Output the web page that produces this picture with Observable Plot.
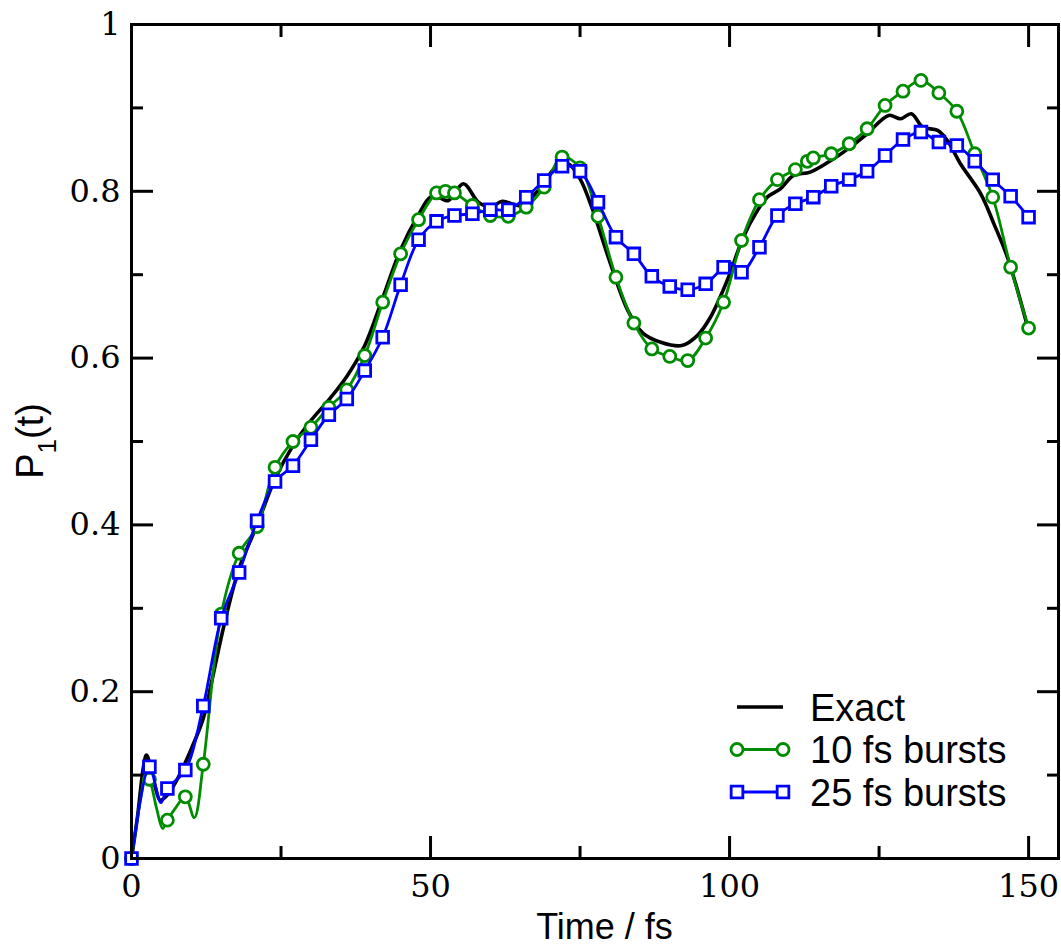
<!DOCTYPE html>
<html><head><meta charset="utf-8">
<script src="https://cdn.jsdelivr.net/npm/d3@7"></script>
<script src="https://cdn.jsdelivr.net/npm/@observablehq/plot@0.6"></script>
<style>body{margin:0;background:#fff}</style>
</head><body><div id="chart"></div>
<script>
// ---- Data ----
const exactT = [0,1,2,2.5,3.2,4,4.8,6,7.5,9,10.5,12,13.5,15,16.5,18,21,24,27,30,33,36,39,42,45,48,50,51.5,53,55.5,58,60,62,65,68,71,73,75,77,80,83,85.5,88.5,92,94.6,96.8,99.6,102.3,104.5,106.3,108.5,110.7,113.5,117.4,120.2,123,126.6,128.6,130.4,132.3,134.8,136.4,138.6,142,144.2,146.5,150];
const exactP = [0,0.05,0.11,0.124,0.11,0.085,0.07,0.076,0.093,0.115,0.14,0.168,0.215,0.265,0.31,0.348,0.40,0.455,0.495,0.525,0.55,0.578,0.615,0.672,0.73,0.772,0.793,0.792,0.789,0.809,0.787,0.781,0.788,0.783,0.801,0.829,0.833,0.815,0.78,0.715,0.657,0.63,0.619,0.615,0.627,0.649,0.693,0.745,0.775,0.793,0.803,0.819,0.823,0.839,0.853,0.869,0.891,0.887,0.893,0.877,0.873,0.861,0.833,0.797,0.761,0.72,0.633];

// 10 fs bursts: marker points
const b10T = [0,3,6,9,12,15,18,21,24,27,30,33,36,39,42,45,48,51,52.5,54,57,60,63,66,69,72,75,78,81,84,87,90,93,96,99,102,105,108,111,113,114,117,120,123,126,129,132,135,138,141,144,147,150];
const b10P = [0,0.095,0.046,0.074,0.113,0.293,0.366,0.398,0.469,0.500,0.517,0.541,0.562,0.603,0.667,0.725,0.766,0.798,0.800,0.798,0.783,0.771,0.770,0.781,0.805,0.841,0.828,0.770,0.697,0.642,0.611,0.602,0.597,0.624,0.667,0.741,0.790,0.814,0.826,0.836,0.840,0.845,0.857,0.875,0.903,0.920,0.933,0.918,0.896,0.845,0.793,0.709,0.636];
// 10 fs bursts: extra points of the curve between markers
const b10ExtraT = [1.5,2.4,4.2,5.2,7.5,10.5];
const b10ExtraP = [0.07,0.10,0.06,0.036,0.062,0.049];

// 25 fs bursts: marker points
const b25T = [0,3,6,9,12,15,18,21,24,27,30,33,36,39,42,45,48,51,54,57,60,63,66,69,72,75,78,81,84,87,90,93,96,99,102,105,108,111,114,117,120,123,126,129,132,135,138,141,144,147,150];
const b25P = [0,0.110,0.084,0.106,0.183,0.288,0.343,0.405,0.452,0.471,0.502,0.532,0.551,0.585,0.625,0.688,0.742,0.764,0.771,0.773,0.778,0.778,0.793,0.813,0.830,0.824,0.787,0.745,0.725,0.698,0.686,0.682,0.689,0.709,0.703,0.733,0.771,0.785,0.793,0.806,0.814,0.824,0.843,0.862,0.871,0.859,0.855,0.836,0.814,0.794,0.769];
const b25ExtraT = [4.9,100.3];
const b25ExtraP = [0.067,0.714];

const xMajor = [0,50,100,150];
const xMinor = [25,75,125];
const yMajor = [0,0.2,0.4,0.6,0.8,1];
const yMinor = [0.1,0.3,0.5,0.7,0.9];
const legendLabels = ["Exact","10 fs bursts","25 fs bursts"];
const xLabel = "Time / fs";

// ---- Build tables ----
const zip = (T,P) => T.map((t,i)=>({t, p:P[i]}));
const exact = zip(exactT, exactP);
const b10 = zip(b10T, b10P);
const b25 = zip(b25T, b25P);
const b10Line = b10.concat(zip(b10ExtraT,b10ExtraP)).sort((a,b)=>a.t-b.t);
const b25Line = b25.concat(zip(b25ExtraT,b25ExtraP)).sort((a,b)=>a.t-b.t);

const GREEN = "#008c00", BLUE = "#0000ff";
const SERIF = "DejaVu Serif";
const SANS = "Liberation Sans, Arial, sans-serif";
const yFmt = d => (d===0||d===1) ? String(d) : d.toFixed(1);
const none = () => "";

const chart = Plot.plot({
  width: 1061, height: 946,
  marginLeft: 131, marginRight: 3, marginTop: 24, marginBottom: 88,
  x: {domain: [0,155]},
  y: {domain: [0,1]},
  style: {background: "white", overflow: "visible"},
  marks: [
    Plot.line(exact, {x:"t", y:"p", stroke:"black", strokeWidth:3.6, curve:"catmull-rom"}),
    Plot.line(b10Line, {x:"t", y:"p", stroke:GREEN, strokeWidth:2.8, curve:"catmull-rom"}),
    Plot.dot(b10, {x:"t", y:"p", symbol:"circle", r:6, stroke:GREEN, fill:"white", strokeWidth:2.8}),
    Plot.line(b25Line, {x:"t", y:"p", stroke:BLUE, strokeWidth:2.8, curve:"catmull-rom"}),
    Plot.dot(b25, {x:"t", y:"p", symbol:"square", r:6.6, stroke:BLUE, fill:"white", strokeWidth:2.8}),
    Plot.frame({strokeWidth:3}),
    Plot.axisX({anchor:"bottom", ticks:xMajor, tickSize:-22, tickPadding:38, tickFormat:d=>String(d), strokeWidth:3, label:null}),
    Plot.axisX({anchor:"bottom", ticks:xMinor, tickSize:-12, tickFormat:none, strokeWidth:3, label:null}),
    Plot.axisX({anchor:"top", ticks:xMajor, tickSize:-22, tickFormat:none, strokeWidth:3, label:null}),
    Plot.axisX({anchor:"top", ticks:xMinor, tickSize:-12, tickFormat:none, strokeWidth:3, label:null}),
    Plot.axisY({anchor:"left", ticks:yMajor, tickSize:-22, tickPadding:33, tickFormat:yFmt, strokeWidth:3, label:null}),
    Plot.axisY({anchor:"left", ticks:yMinor, tickSize:-12, tickFormat:none, strokeWidth:3, label:null}),
    Plot.axisY({anchor:"right", ticks:yMajor, tickSize:-22, tickFormat:none, strokeWidth:3, label:null}),
    Plot.axisY({anchor:"right", ticks:yMinor, tickSize:-12, tickFormat:none, strokeWidth:3, label:null})
  ]
});
document.getElementById("chart").appendChild(chart);

const svg = d3.select(chart);
svg.selectAll("g[aria-label$='tick label'] text")
  .attr("font-family", SERIF).style("font-family", SERIF).style("font-size", "32px");

// ---- Axis titles and legend ----
const xr = chart.scale("x").range, yr = chart.scale("y").range;

svg.append("text")
  .attr("x", (xr[0]+xr[1])/2 + 10).attr("y", 939)
  .attr("text-anchor","middle")
  .style("font-family", SANS).style("font-size","36px").attr("fill","black")
  .text(xLabel);

const yl = svg.append("text")
  .attr("transform", `translate(43,${(yr[0]+yr[1])/2}) rotate(-90)`)
  .attr("text-anchor","middle")
  .style("font-family", SANS).style("font-size","38px").attr("fill","black");
yl.append("tspan").text("P");
yl.append("tspan").attr("dy", 13).style("font-size","26px").text("1");
yl.append("tspan").attr("dy", -13).text("(t)");

const lg = svg.append("g");
const rows = [
  {label: legendLabels[0], color:"black", sym:null, w:3.6},
  {label: legendLabels[1], color:GREEN, sym:d3.symbolCircle, w:2.8, r:6},
  {label: legendLabels[2], color:BLUE, sym:d3.symbolSquare, w:2.8, r:6.6}
];
rows.forEach((row,i) => {
  const cy = 707 + i*42.5;
  lg.append("line").attr("x1",737).attr("x2",783).attr("y1",cy).attr("y2",cy)
    .attr("stroke",row.color).attr("stroke-width",row.w);
  if (row.sym) {
    [737,783].forEach(cx => {
      lg.append("path").attr("d", d3.symbol(row.sym, Math.PI*row.r*row.r)())
        .attr("transform",`translate(${cx},${cy})`)
        .attr("fill","white").attr("stroke",row.color).attr("stroke-width",row.w);
    });
  }
  lg.append("text").attr("x",810).attr("y",cy+13.5)
    .attr("text-anchor","start")
    .style("font-family",SANS).style("font-size","38px").attr("fill","black")
    .text(row.label);
});
</script>
</body></html>
